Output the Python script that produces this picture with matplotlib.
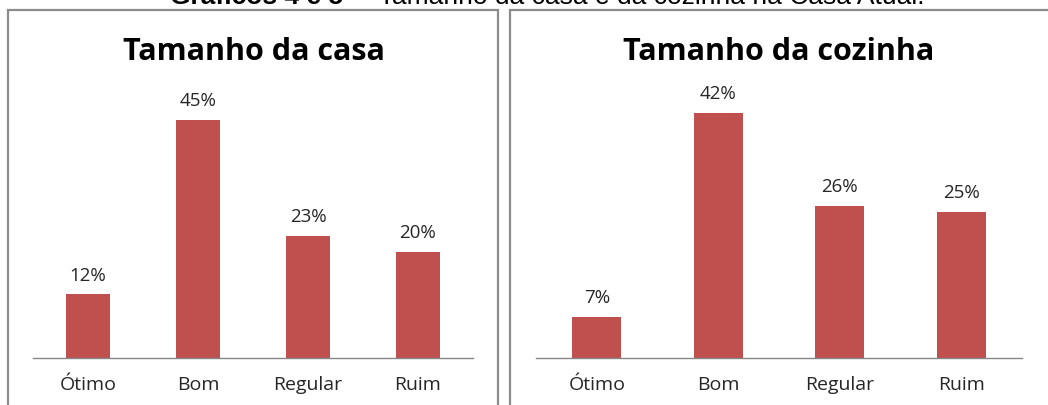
import matplotlib.pyplot as plt
from matplotlib.patches import Rectangle

categorias = ["Ótimo", "Bom", "Regular", "Ruim"]
casa = [12, 45, 23, 20]
cozinha = [7, 42, 26, 25]

W, H = 1048, 405
COR_BARRA = "#C0504D"
FONTE = "Open Sans"


def caixa(x0, y0, x1, y1):
    # pixels (origem no topo) -> fracao da figura
    return [x0 / W, 1 - y1 / H, (x1 - x0) / W, (y1 - y0) / H]


fig = plt.figure(figsize=(W / 100, H / 100), dpi=100)

# molduras dos dois graficos
for x0, x1 in [(8, 498), (510, 1060)]:
    fig.add_artist(Rectangle((x0 / W, -0.1), (x1 - x0) / W, 1 - 10.5 / H + 0.1,
                             transform=fig.transFigure, fill=False,
                             edgecolor="#8c8c8c", linewidth=1.6))

# titulo geral (cortado no topo, como no original)
fig.text(343 / W, 1 - 4.5 / H, "Gráficos 4 e 5", ha="right", va="baseline",
         fontsize=19, fontweight="bold", family="Liberation Sans")
fig.text(357 / W, 1 - 4.5 / H, "– Tamanho da casa e da cozinha na Casa Atual.",
         ha="left", va="baseline", fontsize=19, family="Liberation Sans")


def grafico(pos, valores, ymax, titulo, cx):
    ax = fig.add_axes(pos)
    x = range(len(categorias))
    barras = ax.bar(x, valores, width=0.4, color=COR_BARRA)
    ax.set_xlim(-0.5, 3.5)
    ax.set_ylim(0, ymax)
    for b, v in zip(barras, valores):
        ax.annotate(f"{v}%", (b.get_x() + b.get_width() / 2, v),
                    xytext=(0, 10), textcoords="offset points",
                    ha="center", va="baseline", fontsize=13.5,
                    color="#262626", family=FONTE)
    ax.set_xticks(list(x))
    ax.set_xticklabels(categorias, fontsize=14, color="#262626", family=FONTE)
    ax.tick_params(axis="x", length=0, pad=13)
    ax.set_yticks([])
    for s in ["top", "left", "right"]:
        ax.spines[s].set_visible(False)
    ax.spines["bottom"].set_color("#868686")
    ax.spines["bottom"].set_linewidth(1)
    ax.patch.set_alpha(0)
    fig.text(cx / W, 1 - 60 / H, titulo, ha="center", va="baseline",
             fontsize=22, fontweight="bold", family=FONTE)
    return ax


grafico(caixa(33, 93, 473, 358), casa, 50, "Tamanho da casa", 253.5)
grafico(caixa(536, 95, 1022, 358), cozinha, 45, "Tamanho da cozinha", 779)

fig.savefig("out.png", dpi=100)
